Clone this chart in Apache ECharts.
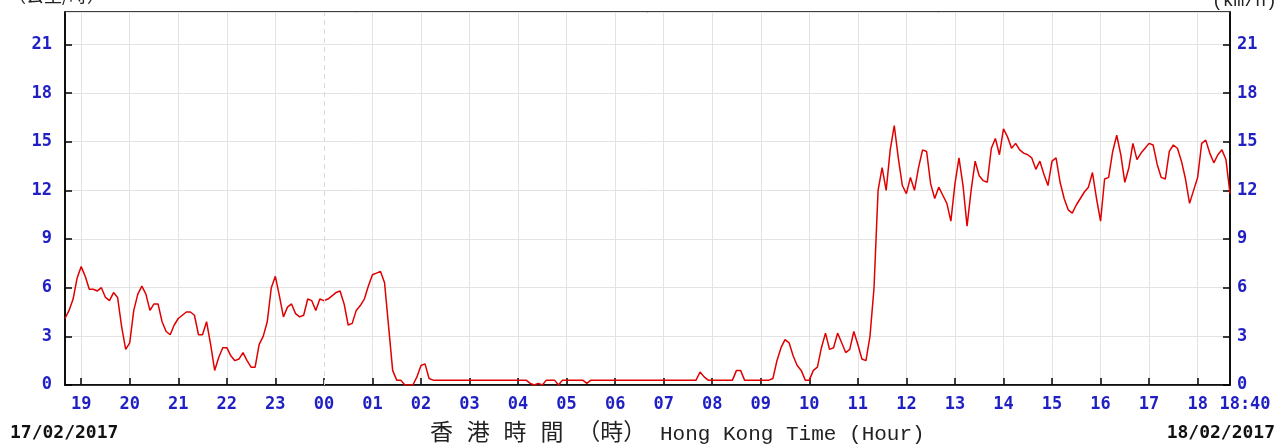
<!DOCTYPE html>
<html>
<head>
<meta charset="utf-8">
<script src="https://cdn.jsdelivr.net/npm/echarts@6/dist/echarts.min.js"></script>
<style>
html,body{margin:0;padding:0;background:#fff;}
#chart{width:1279px;height:445px;}
</style>
</head>
<body>
<div id="chart"></div>
<script>
// Wind speed (km/h), sampled every 5 minutes from 17/02/2017 18:40 to 18/02/2017 18:40
const eveningValues = [4.1,4.6,5.3,6.6,7.3,
  6.7,5.9,5.9,5.8,6.0,5.4,5.2,5.7,5.4,3.6,2.2,2.6,
  4.6,5.6,6.1,5.6,4.6,5.0,5.0,3.9,3.3,3.1,3.7,4.1,
  4.3,4.5,4.5,4.3,3.1,3.1,3.9,2.5,0.9,1.7,2.3,2.3,
  1.8,1.5,1.6,2.0,1.5,1.1,1.1,2.5,3.0,3.9,6.0,6.7,
  5.5,4.2,4.8,5.0,4.4,4.2,4.3,5.3,5.2,4.6,5.3,5.2];
const nightValues = [5.3,5.5,5.7,5.8,5.0,3.7,3.8,4.6,4.9,5.3,6.1,6.8,
  6.9,7.0,6.3,3.6,0.9,0.3,0.3,0.0,0.0,0.0,0.5,1.2,
  1.3,0.4,0.3,0.3,0.3,0.3,0.3,0.3,0.3,0.3,0.3,0.3,
  0.3,0.3,0.3,0.3,0.3,0.3,0.3,0.3,0.3,0.3,0.3,0.3,
  0.3,0.3,0.1,0.0,0.1,0.0,0.3,0.3,0.3,0.0,0.3,0.3,
  0.3,0.3,0.3,0.3,0.1,0.3,0.3,0.3,0.3,0.3,0.3,0.3];
const morningValues = [0.3,0.3,0.3,0.3,0.3,0.3,0.3,0.3,0.3,0.3,0.3,0.3,
  0.3,0.3,0.3,0.3,0.3,0.3,0.3,0.3,0.8,0.5,0.3,0.3,
  0.3,0.3,0.3,0.3,0.3,0.9,0.9,0.3,0.3,0.3,0.3,0.3,
  0.3,0.3,0.4,1.5,2.3,2.8,2.6,1.8,1.2,0.9,0.3,0.3,
  0.9,1.1,2.3,3.2,2.2,2.3,3.2,2.6,2.0,2.2,3.3,2.5,
  1.6,1.5,3.0,6.0,12.0,13.4,12.0,14.5,16.0,14.0,12.3,11.8];
const afternoonValues = [12.8,12.0,13.4,14.5,14.4,12.4,11.5,12.2,11.7,11.2,10.1,12.4,
  14.0,12.3,9.8,12.0,13.8,12.9,12.6,12.5,14.6,15.2,14.2,15.8,
  15.3,14.6,14.9,14.5,14.3,14.2,14.0,13.3,13.8,13.0,12.3,13.8,
  14.0,12.5,11.5,10.8,10.6,11.1,11.5,11.9,12.2,13.1,11.5,10.1,
  12.7,12.8,14.4,15.4,14.2,12.5,13.4,14.9,13.9,14.3,14.6,14.9,
  14.8,13.6,12.8,12.7,14.4,14.8,14.6,13.8,12.7,11.2,12.0,12.8,
  14.9,15.1,14.3,13.7,14.2,14.5,13.9,11.8];
const yTicks = [0,3,6,9,12,15,18,21];
const startDate = '17/02/2017';
const endDate = '18/02/2017';
const xTitleZh = '香 港 時 間 （時）';
const xTitleEn = 'Hong Kong Time (Hour)';
const leftUnit = '（公里/時）';
const rightUnit = '(km/h)';

const values = eveningValues.concat(nightValues, morningValues, afternoonValues);
function pad(n){return (n<10?'0':'')+n;}
const categories = [];
for (let m = 0; m < values.length; m++) {
  const t = (18*60 + 40 + m*5) % 1440;
  categories.push(pad(Math.floor(t/60)) + ':' + pad(t%60));
}
const last = categories.length - 1;
const isHour = (i, v) => i > 0 && i < last && v.slice(3) === '00';

const labelFont = {color:'#1f1fc4', fontFamily:'DejaVu Sans Mono', fontWeight:'bold', fontSize:17};

const chart = echarts.init(document.getElementById('chart'));
chart.setOption({
  animation:false,
  grid:{left:65, right:49, top:12, bottom:60, show:true, borderColor:'#000', borderWidth:1.5, backgroundColor:'#fff'},
  xAxis:{
    type:'category', data:categories, boundaryGap:false,
    axisLine:{lineStyle:{color:'#000', width:1.5}},
    axisTick:{inside:true, length:7, interval:isHour, lineStyle:{color:'#000', width:1.5}},
    axisLabel:Object.assign({}, labelFont, {
      margin:11,
      interval:(i, v) => isHour(i, v) || i === last,
      formatter:(v, i) => i === last ? '{e|' + v + '}' : v.slice(0,2),
      rich:{e:Object.assign({}, labelFont, {padding:[0,0,0,30]})}
    }),
    splitLine:{show:true, interval:(i, v) => isHour(i, v) && v !== '00:00', lineStyle:{color:'#e3e3e3', width:1}}
  },
  yAxis:[
    {type:'value', min:0, max:23, interval:3, position:'left',
     axisLine:{show:true, lineStyle:{color:'#000', width:1.5}},
     axisTick:{show:true, inside:true, length:7, lineStyle:{color:'#000', width:1.5}},
     axisLabel:Object.assign({}, labelFont, {margin:13, showMaxLabel:false,
       formatter:v => yTicks.indexOf(v) >= 0 ? String(v) : ''}),
     splitLine:{show:true, lineStyle:{color:'#e3e3e3', width:1}}},
    {type:'value', min:0, max:23, interval:3, position:'right',
     axisLine:{show:true, lineStyle:{color:'#000', width:1.5}},
     axisTick:{show:true, inside:true, length:7, lineStyle:{color:'#000', width:1.5}},
     axisLabel:Object.assign({}, labelFont, {margin:7, showMaxLabel:false,
       formatter:v => yTicks.indexOf(v) >= 0 ? String(v) : ''}),
     splitLine:{show:false}}
  ],
  series:[{
    type:'line', data:values, showSymbol:false, symbol:'none',
    lineStyle:{color:'#e00000', width:1.5},
    markLine:{silent:true, symbol:'none', label:{show:false},
      lineStyle:{color:'#d8d8d8', type:[5,4], width:1},
      data:[{xAxis:'00:00'}]}
  }],
  graphic:[
    {type:'text', x:10, y:433, style:{text:startDate, fill:'#111', verticalAlign:'middle', font:'bold 18px "DejaVu Sans Mono"'}},
    {type:'text', x:1275, y:433, style:{text:endDate, fill:'#111', align:'right', verticalAlign:'middle', font:'bold 18px "DejaVu Sans Mono"'}},
    {type:'text', x:430, y:434, style:{text:xTitleZh, fill:'#222', verticalAlign:'middle', font:'23px "Liberation Mono", "Noto Sans CJK TC"'}},
    {type:'text', x:660, y:434, style:{text:xTitleEn, fill:'#222', verticalAlign:'middle', font:'21px "Liberation Mono"'}},
    {type:'text', x:8, y:4, style:{text:leftUnit, fill:'#222', verticalAlign:'bottom', font:'18px "Noto Sans CJK TC"'}},
    {type:'text', x:1212, y:10, style:{text:rightUnit, fill:'#222', verticalAlign:'bottom', font:'18px "Liberation Mono"'}}
  ]
});
</script>
</body>
</html>
